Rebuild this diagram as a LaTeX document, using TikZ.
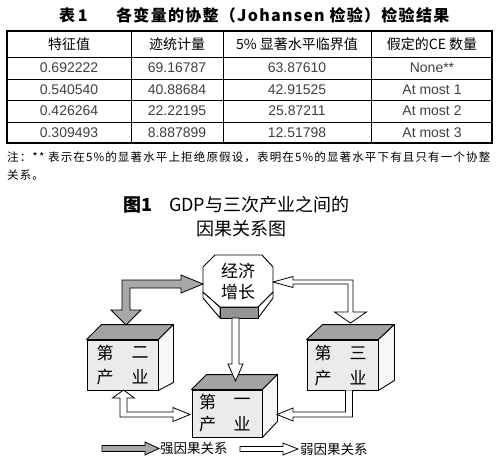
\documentclass[tikz,border=0pt]{standalone}
\usepackage{fontspec}
\setmainfont{Liberation Sans}
\newfontfamily\cjk{Noto Sans CJK SC}
\newfontfamily\cjktitle[LetterSpace=8]{Noto Sans CJK SC}
\newfontfamily\cjknote[LetterSpace=10]{Noto Sans CJK SC}
\usetikzlibrary{calc}
\definecolor{topgray}{gray}{0.64}
\definecolor{frontgray}{gray}{0.92}
\definecolor{sidegray}{gray}{0.97}
\definecolor{strongfill}{gray}{0.66}
\definecolor{basegray}{gray}{0.58}
\definecolor{numtext}{gray}{0.25}
\tikzset{
  hdr/.style={font=\cjk\fontsize{14}{14}\selectfont, inner sep=0pt},
  num/.style={font=\fontsize{14}{14}\selectfont, text=numtext, inner sep=0pt},
  frontbox/.style={draw, line width=0.9pt, fill=frontgray, inner sep=0pt},
  facestyle/.style={draw, line width=0.9pt, line join=round},
  boxtext/.style={font=\cjk\fontsize{17}{17}\selectfont, inner sep=0pt},
  strongarrow/.style={draw, line width=0.8pt, fill=strongfill, line join=miter},
  weakarrow/.style={draw, line width=0.8pt, fill=white, line join=miter},
  legtext/.style={font=\cjk\fontsize{13.5}{13.5}\selectfont, inner sep=0pt, anchor=west},
}
\begin{document}
\begin{tikzpicture}[x=1pt,y=-1pt]
\useasboundingbox (0,0) rectangle (500,461);

% ---------- Table title ----------
\node[font=\cjk\bfseries\fontsize{16}{16}\selectfont, anchor=west, inner sep=0pt] (t1) at (59,15) {表\,1};
\node[font=\cjktitle\bfseries\fontsize{16}{16}\selectfont, anchor=west, inner sep=0pt] (t2) at (116,15) {各变量的协整（Johansen 检验）检验结果};

% ---------- Table ----------
\foreach \y in {57,79,100,122} \draw[line width=0.8pt] (7,\y) -- (492,\y);
\foreach \x in {131,223,371} \draw[line width=0.8pt] (\x,31) -- (\x,143);
\draw[line width=1.6pt] (7,31) rectangle (492,143);

\node[hdr] (h1) at (69,44) {特征值};
\node[hdr] (h2) at (177,44) {迹统计量};
\node[hdr] (h3) at (297,44) {5\% 显著水平临界值};
\node[hdr] (h4) at (432,44) {假定的CE 数量};

\node[num] (r11) at (69,68) {0.692222};
\node[num] (r12) at (177,68) {69.16787};
\node[num] (r13) at (297,68) {63.87610};
\node[num] (r14) at (432,68) {None**};
\node[num] (r21) at (69,89.5) {0.540540};
\node[num] (r22) at (177,89.5) {40.88684};
\node[num] (r23) at (297,89.5) {42.91525};
\node[num] (r24) at (432,89.5) {At most 1};
\node[num] (r31) at (69,111) {0.426264};
\node[num] (r32) at (177,111) {22.22195};
\node[num] (r33) at (297,111) {25.87211};
\node[num] (r34) at (432,111) {At most 2};
\node[num] (r41) at (69,132.5) {0.309493};
\node[num] (r42) at (177,132.5) {8.887899};
\node[num] (r43) at (297,132.5) {12.51798};
\node[num] (r44) at (432,132.5) {At most 3};

% ---------- Note ----------
\node[font=\cjknote\fontsize{11.5}{11.5}\selectfont, anchor=west, inner sep=0pt] (n1) at (7,157) {注：** 表示在5\%的显著水平上拒绝原假设，表明在5\%的显著水平下有且只有一个协整};
\node[font=\cjknote\fontsize{11.5}{11.5}\selectfont, anchor=west, inner sep=0pt] (n2) at (7,175) {关系。};

% ---------- Figure title ----------
\node[font=\cjk\bfseries\fontsize{18}{18}\selectfont, anchor=west, inner sep=0pt] (f1) at (123,205) {图1};
\node[font=\cjk\fontsize{18}{18}\selectfont, anchor=west, inner sep=0pt] (f2) at (169,205) {GDP与三次产业之间的};
\node[font=\cjk\fontsize{18}{18}\selectfont, inner sep=0pt] (f3) at (241,229) {因果关系图};

% ---------- Octagon (经济增长) ----------
\draw[facestyle, fill=white] (203,292) -- (220,307) -- (220,318) -- (203,298) -- cycle;
\draw[facestyle, fill=white] (273,292) -- (258,307) -- (258,318) -- (273,298) -- cycle;
\draw[facestyle, fill=basegray] (220,307) rectangle (258,318);
\draw[facestyle, fill=white] (215,255) -- (262,255) -- (273,267) -- (273,292) -- (258,307) -- (220,307) -- (203,292) -- (203,267) -- cycle;
\node[boxtext] (oct1) at (238,271) {经济};
\node[boxtext] (oct2) at (238,292) {增长};
\coordinate (octW) at (203,284);
\coordinate (octE) at (273,282);
\coordinate (octS) at (235.5,318);

% ---------- Cubes ----------
% box 2 (第二产业)
\node[frontbox, minimum width=71pt, minimum height=50pt] (b2) at (122.5,365) {};
\draw[facestyle, fill=topgray] (b2.north west) -- ++(15,-15) -- ($(b2.north east)+(15,-15)$) -- (b2.north east) -- cycle;
\draw[facestyle, fill=sidegray] (b2.north east) -- ++(15,-15) -- ($(b2.south east)+(15,-8)$) -- (b2.south east) -- cycle;
\node[boxtext] (b2a) at (105,353) {第};
\node[boxtext] (b2b) at (140,353) {二};
\node[boxtext] (b2c) at (105,377) {产};
\node[boxtext] (b2d) at (140,377) {业};

% box 3 (第三产业)
\node[frontbox, minimum width=71pt, minimum height=50pt] (b3) at (342.5,365) {};
\draw[facestyle, fill=topgray] (b3.north west) -- ++(16,-15) -- ($(b3.north east)+(16,-15)$) -- (b3.north east) -- cycle;
\draw[facestyle, fill=sidegray] (b3.north east) -- ++(16,-15) -- ($(b3.south east)+(16,-10)$) -- (b3.south east) -- cycle;
\node[boxtext] (b3a) at (323,353) {第};
\node[boxtext] (b3b) at (358,353) {三};
\node[boxtext] (b3c) at (323,378) {产};
\node[boxtext] (b3d) at (358,378) {业};

% box 1 (第一产业)
\node[frontbox, minimum width=70pt, minimum height=47pt] (b1) at (227,413.5) {};
\draw[facestyle, fill=topgray] (b1.north west) -- ++(15,-15) -- ($(b1.north east)+(15,-15)$) -- (b1.north east) -- cycle;
\draw[facestyle, fill=sidegray] (b1.north east) -- ++(15,-15) -- ($(b1.south east)+(15,-16)$) -- (b1.south east) -- cycle;
\node[boxtext] (b1a) at (207.5,402) {第};
\node[boxtext] (b1b) at (242,402) {一};
\node[boxtext] (b1c) at (207.5,424) {产};
\node[boxtext] (b1d) at (242,424) {业};

% ---------- Arrows ----------
% strong: 经济增长 <-> 第二产业
\coordinate (sc) at (126,284);
\coordinate (sA) at (126,325);
\filldraw[strongarrow] ($(sc)+(-4,-4)$) -- ($(octW)+(-22,-4)$) -- ($(octW)+(-22,-9)$) -- (octW)
  -- ($(octW)+(-22,9)$) -- ($(octW)+(-22,4)$) -- ($(sc)+(4,4)$) -- ($(sA)+(4,-15)$)
  -- ($(sA)+(15,-15)$) -- (sA) -- ($(sA)+(-15,-15)$) -- ($(sA)+(-4,-15)$) -- cycle;

% weak: 经济增长 <-> 第三产业
\coordinate (wc) at (350.5,282);
\coordinate (wA) at (350.5,323);
\filldraw[weakarrow] ($(wc)+(2.5,-2)$) -- ($(wA)+(2.5,-11)$) -- ($(wA)+(16,-11)$) -- (wA)
  -- ($(wA)+(-16,-11)$) -- ($(wA)+(-2.5,-11)$) -- ($(wc)+(-2.5,2)$) -- ($(octE)+(20,2)$)
  -- ($(octE)+(20,5.5)$) -- (octE) -- ($(octE)+(20,-5.5)$) -- ($(octE)+(20,-2)$) -- cycle;

% weak: 经济增长 -> 第一产业
\coordinate (vA) at (235.5,381);
\filldraw[weakarrow] ($(octS)+(-3.5,0)$) -- ($(vA)+(-3.5,-17)$) -- ($(vA)+(-7.5,-17)$) -- (vA)
  -- ($(vA)+(7.5,-17)$) -- ($(vA)+(3.5,-17)$) -- ($(octS)+(3.5,0)$) -- cycle;

% weak: 第二产业 <-> 第一产业
\coordinate (lc) at (123.5,414.5);
\coordinate (lA) at (123.5,390);
\coordinate (lB) at (190,414.5);
\filldraw[weakarrow] ($(lc)+(-3.5,2.5)$) -- ($(lB)+(-17,2.5)$) -- ($(lB)+(-17,7)$) -- (lB)
  -- ($(lB)+(-17,-7)$) -- ($(lB)+(-17,-2.5)$) -- ($(lc)+(3.5,-2.5)$) -- ($(lA)+(3.5,8)$)
  -- ($(lA)+(11,8)$) -- (lA) -- ($(lA)+(-11,8)$) -- ($(lA)+(-3.5,8)$) -- cycle;

% weak: 第三产业 -> 第一产业
\coordinate (rs) at ($(b3.south)+(6.5,0)$);
\coordinate (rc) at (349,414.5);
\coordinate (rB) at (277,414.5);
\fill[white] ($(rs)+(3.5,0)$) -- ($(rc)+(3.5,2.5)$) -- ($(rB)+(16,2.5)$) -- ($(rB)+(16,6.5)$) -- (rB)
  -- ($(rB)+(16,-6.5)$) -- ($(rB)+(16,-2.5)$) -- ($(rc)+(-3.5,-2.5)$) -- ($(rs)+(-3.5,0)$) -- cycle;
\draw[line width=0.8pt] ($(rs)+(3.5,0)$) -- ($(rc)+(3.5,2.5)$) -- ($(rB)+(16,2.5)$) -- ($(rB)+(16,6.5)$) -- (rB)
  -- ($(rB)+(16,-6.5)$) -- ($(rB)+(16,-2.5)$) -- ($(rc)+(-3.5,-2.5)$) -- ($(rs)+(-3.5,0)$);

% ---------- Legend ----------
\coordinate (ls0) at (102,448.5);
\coordinate (ls1) at (159,448.5);
\filldraw[strongarrow] ($(ls0)+(0,-3)$) -- ($(ls1)+(-14,-3)$) -- ($(ls1)+(-14,-6.5)$) -- (ls1)
  -- ($(ls1)+(-14,6.5)$) -- ($(ls1)+(-14,3)$) -- ($(ls0)+(0,3)$) -- cycle;
\node[legtext] (lg1) at (160,448.5) {强因果关系};
\coordinate (lw0) at (240,449);
\coordinate (lw1) at (298,449);
\filldraw[weakarrow] ($(lw0)+(0,-2.5)$) -- ($(lw1)+(-15,-2.5)$) -- ($(lw1)+(-15,-6)$) -- (lw1)
  -- ($(lw1)+(-15,6)$) -- ($(lw1)+(-15,2.5)$) -- ($(lw0)+(0,2.5)$) -- cycle;
\node[legtext] (lg2) at (300,449) {弱因果关系};
\end{tikzpicture}
\end{document}
